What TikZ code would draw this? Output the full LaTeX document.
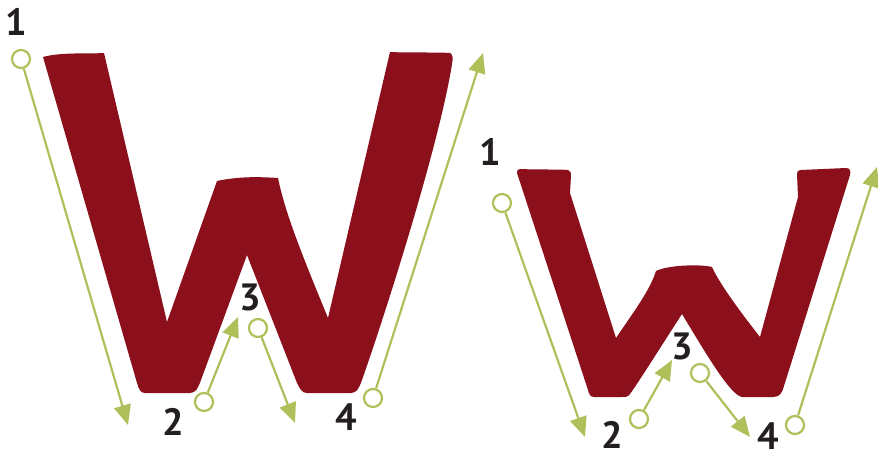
\documentclass[tikz,border=0pt]{standalone}
\usepackage{fontspec}
\setmainfont{PT Sans}
\usetikzlibrary{arrows.meta}
\definecolor{wred}{HTML}{8C0F1C}
\definecolor{wgreen}{HTML}{AFBF5A}
\definecolor{wdark}{HTML}{231F20}
\tikzset{
  startpt/.style={circle, draw=wgreen, line width=2.2pt, fill=white, minimum size=18pt, inner sep=0pt},
  numlab/.style={text=wdark, font=\bfseries\fontsize{38}{38}\selectfont, inner sep=0pt},
  strokearrow/.style={draw=wgreen, line width=2.2pt, -{Triangle[length=20pt,width=17pt]}},
  letter/.style={fill=wred}
}
\begin{document}
\begin{tikzpicture}[x=1pt,y=-1pt]
\useasboundingbox (0,0) rectangle (878,462);

% big W
\fill[letter] (43,57) .. controls (60,52) and (90,54) .. (104,53)
  -- (167,322) -- (217,181) .. controls (240,176) and (262,177) .. (278,178)
  .. controls (285,212) and (300,250) .. (328,318)
  -- (390,52) .. controls (410,53) and (435,52) .. (450,53)
  .. controls (453,55) and (453,58) .. (452,64)
  .. controls (440,140) and (390,300) .. (362,380)
  .. controls (359,388) and (357,393) .. (351,393)
  -- (307,393) .. controls (302,393) and (300,389) .. (297,383)
  -- (247,255) -- (201,380)
  .. controls (198,388) and (196,393) .. (190,393)
  -- (145,393) .. controls (140,393) and (139,389) .. (137,383)
  -- cycle;

% small W
\fill[letter] (517,173) .. controls (516,171) and (518,169) .. (521,169)
  .. controls (540,170) and (555,169) .. (568,170)
  .. controls (571,171) and (571,173) .. (571,176)
  -- (570,193) -- (616,338)
  .. controls (635,310) and (650,290) .. (656,271)
  .. controls (668,265) and (700,264) .. (712,267)
  .. controls (720,285) and (745,318) .. (760,337)
  -- (798,197) -- (797,174)
  .. controls (797,171) and (798,170) .. (801,170)
  -- (846,168) .. controls (850,168) and (851,171) .. (850,175)
  -- (784,386) .. controls (782,393) and (780,397) .. (773,397)
  -- (742,397) .. controls (730,395) and (705,352) .. (682,314)
  .. controls (660,348) and (640,380) .. (630,394)
  .. controls (628,397) and (626,397) .. (622,397)
  -- (594,397) .. controls (590,397) and (589,394) .. (588,390)
  -- cycle;

% big W guides
\node[startpt] (b1) at (21,59) {};
\node[startpt] (b2) at (204,402) {};
\node[startpt] (b3) at (258,328) {};
\node[startpt] (b4) at (373,398) {};
\coordinate (bt1) at (128,425);
\coordinate (bt2) at (238,317);
\coordinate (bt3) at (295,423);
\coordinate (bt4) at (483,53);
\draw[strokearrow] (b1) -- (bt1);
\draw[strokearrow] (b2) -- (bt2);
\draw[strokearrow] (b3) -- (bt3);
\draw[strokearrow] (b4) -- (bt4);
\node[numlab] (bl1) at (16,22) {1};
\node[numlab] (bl2) at (173,422) {2};
\node[numlab] (bl3) at (250,297) {3};
\node[numlab] (bl4) at (346,417) {4};

% small W guides
\node[startpt] (s1) at (502,203) {};
\node[startpt] (s2) at (639,419) {};
\node[startpt] (s3) at (700,373) {};
\node[startpt] (s4) at (795,425) {};
\coordinate (st1) at (585,437);
\coordinate (st2) at (672,360);
\coordinate (st3) at (750,437);
\coordinate (st4) at (877,167);
\draw[strokearrow] (s1) -- (st1);
\draw[strokearrow] (s2) -- (st2);
\draw[strokearrow] (s3) -- (st3);
\draw[strokearrow] (s4) -- (st4);
\node[numlab] (sl1) at (490,152) {1};
\node[numlab] (sl2) at (612,435) {2};
\node[numlab] (sl3) at (682,346) {3};
\node[numlab] (sl4) at (768,436) {4};
\end{tikzpicture}
\end{document}
